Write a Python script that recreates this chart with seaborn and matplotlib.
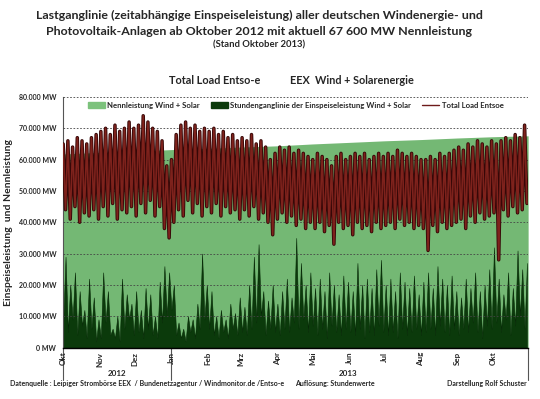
"""Lastganglinie Wind + Solar vs. Total Load (Okt 2012 - Okt 2013)."""

import matplotlib
matplotlib.use('Agg')
import matplotlib.pyplot as plt
from matplotlib.patches import Patch
from matplotlib.lines import Line2D
from matplotlib.ticker import FuncFormatter
import seaborn as sns
import pandas as pd
import numpy as np

# Total Load Entsoe, values every 2 days in 1000 MW (alternating peak / trough)
load_k = [
    65, 44, 66, 41, 64, 45, 67, 40, 66, 43, 65, 42, 67, 44, 68, 41,   # Okt
    69, 45, 70, 42, 68, 46, 71, 41, 69, 44, 70, 43, 72, 45, 70,       # Nov
    42, 71, 46, 74, 43, 72, 47, 70, 42, 69, 45, 66, 38, 58, 35,       # Dez
    60, 40, 68, 44, 71, 42, 72, 47, 70, 43, 71, 46, 69, 42, 70, 45,   # Jan
    69, 43, 70, 46, 68, 42, 69, 45, 67, 43, 68, 44, 66, 41,           # Feb
    67, 44, 66, 42, 68, 45, 65, 41, 66, 43, 64, 40, 60, 36, 62, 41,   # Mrz
    64, 43, 63, 40, 64, 42, 62, 39, 63, 41, 62, 38, 61, 40, 60,       # Apr
    38, 62, 40, 61, 37, 60, 39, 58, 33, 61, 40, 62, 38, 60, 39,       # Mai
    61, 36, 62, 40, 61, 38, 62, 39, 60, 37, 61, 40, 62, 38, 61,       # Jun
    39, 62, 40, 61, 38, 63, 41, 62, 39, 61, 40, 62, 38, 61, 39, 60,   # Jul
    38, 60, 31, 61, 39, 60, 37, 62, 40, 61, 38, 62, 39, 63, 40,       # Aug
    64, 41, 63, 38, 65, 42, 64, 40, 66, 43, 65, 41, 64, 42, 66,       # Sep
    43, 65, 28, 66, 44, 67, 42, 66, 45, 68, 43, 67, 44, 71, 46,       # Okt
]

# Einspeiseleistung Wind + Solar, values every 2 days in 1000 MW
wind_solar_k = [
    8, 29, 5, 20, 9, 24, 4, 18, 7, 12, 3, 22, 6, 16, 2, 9,            # Okt
    3, 24, 8, 18, 4, 6, 3, 10, 2, 22, 6, 17, 9, 14, 4,                # Nov
    18, 5, 12, 3, 19, 6, 17, 4, 10, 3, 21, 8, 26, 10, 24,             # Dez
    12, 20, 4, 8, 3, 6, 2, 10, 5, 9, 3, 14, 6, 30, 9, 20,             # Jan
    6, 18, 4, 10, 3, 12, 5, 9, 3, 14, 6, 11, 4, 16,                   # Feb
    5, 13, 4, 20, 6, 29, 8, 33, 10, 18, 4, 15, 6, 20, 5, 14,          # Mrz
    4, 18, 6, 22, 5, 16, 8, 35, 6, 27, 9, 20, 5, 24, 7,               # Apr
    19, 4, 22, 6, 18, 3, 24, 7, 20, 5, 17, 4, 23, 6, 21,              # Mai
    5, 18, 4, 27, 6, 20, 3, 22, 5, 19, 4, 25, 7, 28, 5,               # Jun
    20, 4, 22, 5, 18, 3, 24, 6, 21, 4, 19, 5, 23, 6, 17, 4,           # Jul
    21, 5, 24, 6, 19, 4, 26, 7, 22, 5, 20, 4, 23, 6, 18,              # Aug
    4, 16, 6, 22, 5, 19, 8, 24, 5, 18, 3, 20, 7, 25, 6,               # Sep
    32, 8, 22, 5, 17, 9, 24, 4, 19, 7, 31, 10, 25, 6, 27,             # Okt
]

# Nennleistung Wind + Solar at month starts (1000 MW)
capacity_dates = ['2012-10-01', '2012-11-01', '2012-12-01', '2013-01-01',
                  '2013-02-01', '2013-03-01', '2013-04-01', '2013-05-01',
                  '2013-06-01', '2013-07-01', '2013-08-01', '2013-09-01',
                  '2013-10-01', '2013-10-31']
capacity_k = [61.8, 62.3, 62.7, 63.2, 63.6, 64.0, 64.4, 65.0,
              65.5, 66.0, 66.4, 66.9, 67.3, 67.6]

month_labels = ['Okt', 'Nov', 'Dez', 'Jan', 'Feb', 'Mrz', 'Apr',
                'Mai', 'Jun', 'Jul', 'Aug', 'Sep', 'Okt']

# Build data frames
series_df = pd.DataFrame({
    'date': pd.date_range('2012-10-01', periods=len(load_k), freq='2D'),
    'load': np.array(load_k) * 1000,
    'wind_solar': np.array(wind_solar_k) * 1000,
})
cap_df = pd.DataFrame({
    'date': pd.to_datetime(capacity_dates),
    'capacity': np.array(capacity_k) * 1000,
})

sns.set_style('white')
plt.rcParams['font.family'] = ['Lato', 'DejaVu Sans']

light_green = '#74b874'
dark_green = '#0b3a0b'
maroon = '#6e1a1a'

fig = plt.figure(figsize=(5.4, 3.99), dpi=100)
ax = fig.add_axes([0.117, 0.129, 0.861, 0.628])

# Capacity area
ax.fill_between(cap_df['date'], 0, cap_df['capacity'], color=light_green, lw=0, zorder=1)
# Wind + solar feed-in
ax.fill_between(series_df['date'], 0, series_df['wind_solar'], color=dark_green,
                lw=0.4, edgecolor='#062806', zorder=2)
# Total load
sns.lineplot(data=series_df, x='date', y='load', color='#360707', lw=2.5, ax=ax, zorder=4)
sns.lineplot(data=series_df, x='date', y='load', color='#7e221c', lw=1.2, ax=ax, zorder=5)

ax.set_xlim(pd.Timestamp('2012-10-01'), pd.Timestamp('2013-10-31'))
ax.set_ylim(0, 80000)
ax.set_yticks(np.arange(0, 80001, 10000))
ax.yaxis.set_major_formatter(FuncFormatter(
    lambda v, p: f"{int(v):,}".replace(',', '.') + ' MW'))
ax.tick_params(axis='y', labelsize=5, length=3, width=0.6, pad=2)
for lbl in ax.get_yticklabels():
    lbl.set_fontweight('bold')

month_starts = pd.date_range('2012-10-01', periods=len(month_labels), freq='MS')
ax.set_xticks(month_starts)
ax.set_xticklabels(month_labels, rotation=90, fontsize=5.8, fontweight='bold')
ax.tick_params(axis='x', length=0, pad=3)
ax.set_xlabel('')
ax.set_ylabel('Einspeiseleistung  und Nennleistung', fontsize=7.5, fontweight='bold', labelpad=4)

ax.grid(True, axis='y', color='#444444', lw=0.6, linestyle=(0, (2, 2)), zorder=3)
ax.set_axisbelow(False)
for s in ['top', 'right']:
    ax.spines[s].set_visible(False)
ax.spines['left'].set_color('#555555')
ax.spines['left'].set_linewidth(0.8)
ax.spines['bottom'].set_color('black')
ax.spines['bottom'].set_linewidth(1.0)

# Year group dividers and labels
xt = ax.get_xaxis_transform()
for d in ['2012-10-01', '2013-01-01', '2013-10-31']:
    ax.plot([pd.Timestamp(d)] * 2, [0, -0.13], transform=xt, color='#555555',
            lw=0.8, clip_on=False)
ax.text(pd.Timestamp('2012-11-16'), -0.105, '2012', transform=xt, ha='center',
        va='center', fontsize=5.8, fontweight='bold')
ax.text(pd.Timestamp('2013-05-31'), -0.105, '2013', transform=xt, ha='center',
        va='center', fontsize=5.8, fontweight='bold')

# Legend
handles = [
    Patch(facecolor='#7cc27c', edgecolor='#7cc27c', label='Nennleistung Wind + Solar'),
    Patch(facecolor=dark_green, edgecolor=dark_green,
          label='Stundenganglinie der Einspeiseleistung Wind + Solar'),
    Line2D([0], [0], color=maroon, lw=1.0, label='Total Load Entsoe'),
]
ax.legend(handles=handles, loc='upper center', bbox_to_anchor=(0.5, 1.0),
          ncol=3, frameon=False, prop={'size': 5.6, 'weight': 'bold'},
          handlelength=2.2, handleheight=0.7, handletextpad=0.3,
          columnspacing=1.4, borderaxespad=0.2)

# Titles
fig.text(0.48, 0.962, 'Lastganglinie (zeitabhängige Einspeiseleistung) aller deutschen Windenergie- und',
         ha='center', va='center', fontsize=8.9, fontweight='bold')
fig.text(0.48, 0.922, 'Photovoltaik-Anlagen ab Oktober 2012 mit aktuell 67 600 MW Nennleistung',
         ha='center', va='center', fontsize=8.9, fontweight='bold')
fig.text(0.48, 0.887, '(Stand Oktober 2013)', ha='center', va='center',
         fontsize=6.8, fontweight='bold')
fig.text(0.398, 0.797, 'Total Load Entso-e', ha='center', va='center',
         fontsize=7.8, fontweight='bold')
fig.text(0.651, 0.797, 'EEX  Wind + Solarenergie', ha='center', va='center',
         fontsize=7.8, fontweight='bold')

# Footer
fig.text(0.018, 0.04, 'Datenquelle : Leipiger Strombörse EEX  / Bundenetzagentur / Windmonitor.de /Entso-e',
         ha='left', va='center', fontsize=5, fontweight='bold')
fig.text(0.546, 0.04, 'Auflösung: Stundenwerte', ha='left', va='center',
         fontsize=5, fontweight='bold')
fig.text(0.976, 0.04, 'Darstellung Rolf Schuster', ha='right', va='center',
         fontsize=5, fontweight='bold')

fig.savefig('out.png', dpi=100)
